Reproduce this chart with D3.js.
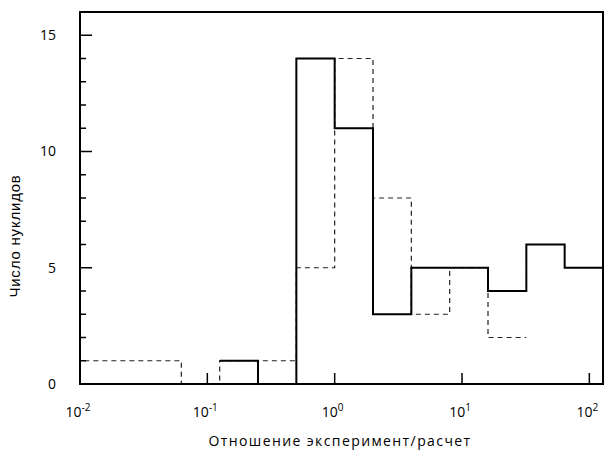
<!DOCTYPE html>
<html>
<head>
<meta charset="utf-8">
<script src="https://cdn.jsdelivr.net/npm/d3@7"></script>
<style>
  body { margin: 0; background: #fff; }
  svg { display: block; }
</style>
</head>
<body>
<div id="chart"></div>
<script>
// Bin edges (ratio experiment/calculation), powers of two
const binEdges = [1/128, 1/64, 1/32, 1/16, 1/8, 1/4, 1/2, 1, 2, 4, 8, 16, 32, 64, 128];
// Dashed histogram counts (starts at first edge, ends at 32)
const dashedCounts = [1, 1, 1, 0, 1, 1, 5, 14, 8, 3, 5, 2];
// Solid histogram counts (null = not drawn)
const solidCounts = [null, null, null, null, 1, 0, 14, 11, 3, 5, 5, 4, 6, 5];
const xTickExps = [-2, -1, 0, 1, 2];
const yMajorTicks = [0, 5, 10, 15];
const yMinorTicks = d3.range(0, 17);

const width = 607, height = 454;
const margin = { left: 80, top: 12, right: 4, bottom: 70 };
const plotW = width - margin.left - margin.right;
const plotH = height - margin.top - margin.bottom;

const svg = d3.select("#chart").append("svg")
    .attr("width", width)
    .attr("height", height);

const x = d3.scaleLog().domain([0.01, 128]).range([margin.left, margin.left + plotW]);
const y = d3.scaleLinear().domain([0, 16]).range([margin.top + plotH, margin.top]);

svg.append("defs").append("clipPath").attr("id", "clip")
    .append("rect")
    .attr("x", margin.left).attr("y", margin.top)
    .attr("width", plotW).attr("height", plotH);

// Build a step path from bin edges and counts
function stepPath(counts) {
    let d = "";
    let started = false;
    counts.forEach((c, i) => {
        if (c === null) return;
        const x0 = x(binEdges[i]), x1 = x(binEdges[i + 1]);
        if (!started) {
            d += `M${x0},${y(c)}`;
            started = true;
        } else {
            d += `V${y(c)}`;
        }
        d += `H${x1}`;
    });
    return d;
}

const g = svg.append("g").attr("clip-path", "url(#clip)");

g.append("path")
    .attr("d", stepPath(dashedCounts))
    .attr("fill", "none")
    .attr("stroke", "#222")
    .attr("stroke-width", 1.2)
    .attr("stroke-dasharray", "5,4");

g.append("path")
    .attr("d", stepPath(solidCounts))
    .attr("fill", "none")
    .attr("stroke", "#000")
    .attr("stroke-width", 2);

// Frame
svg.append("rect")
    .attr("x", margin.left).attr("y", margin.top)
    .attr("width", plotW).attr("height", plotH)
    .attr("fill", "none")
    .attr("stroke", "#000")
    .attr("stroke-width", 2);

// Y ticks (inside)
svg.append("g").selectAll("line")
    .data(yMinorTicks)
    .enter().append("line")
    .attr("x1", margin.left)
    .attr("x2", d => margin.left + (yMajorTicks.includes(d) ? 12 : 6))
    .attr("y1", d => y(d)).attr("y2", d => y(d))
    .attr("stroke", "#000")
    .attr("stroke-width", 1.5);

svg.append("g").selectAll("text")
    .data(yMajorTicks)
    .enter().append("text")
    .attr("x", margin.left - 24)
    .attr("y", d => y(d))
    .attr("dy", "0.35em")
    .attr("text-anchor", "end")
    .style("font-family", "'Open Sans', sans-serif")
    .style("font-size", "14px")
    .text(d => d);

// X ticks (inside)
svg.append("g").selectAll("line")
    .data(xTickExps)
    .enter().append("line")
    .attr("x1", d => x(Math.pow(10, d))).attr("x2", d => x(Math.pow(10, d)))
    .attr("y1", y(0)).attr("y2", y(0) - 11)
    .attr("stroke", "#000")
    .attr("stroke-width", 1.5);

const xl = svg.append("g").selectAll("text")
    .data(xTickExps)
    .enter().append("text")
    .attr("x", d => x(Math.pow(10, d)) - 2)
    .attr("y", 417)
    .attr("text-anchor", "middle")
    .style("font-family", "'Open Sans', sans-serif")
    .style("font-size", "14px");
xl.append("tspan").text("10");
xl.append("tspan")
    .attr("dy", -6)
    .style("font-size", "10px")
    .text(d => d);

// Axis titles
svg.append("text")
    .attr("x", 340)
    .attr("y", 446)
    .attr("text-anchor", "middle")
    .style("font-family", "'Open Sans', sans-serif")
    .style("font-size", "14px")
    .style("letter-spacing", "1.4px")
    .text("Отношение эксперимент/расчет");

svg.append("text")
    .attr("transform", "translate(20,236) rotate(-90)")
    .attr("text-anchor", "middle")
    .style("font-family", "'Liberation Sans', Arial, sans-serif")
    .style("font-size", "15px")
    .style("letter-spacing", "0.8px")
    .text("Число нуклидов");
</script>
</body>
</html>
